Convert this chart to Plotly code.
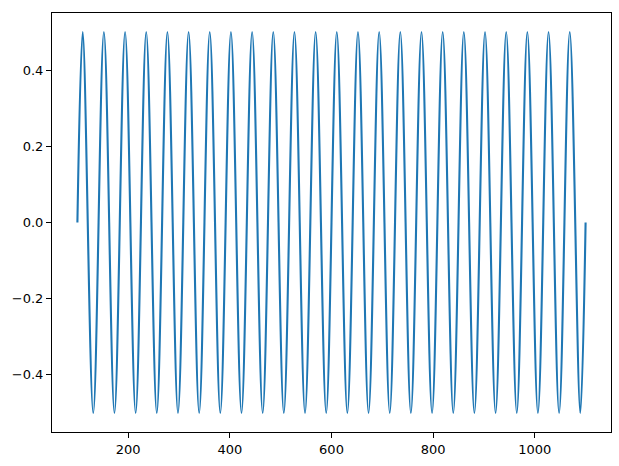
import plotly.graph_objects as go

# Values
x_start, y_start = 100, 0.0
x_end, y_end = 1100, 0.0
amplitude = 0.5
peak_x = [110.4, 152.1, 193.8, 235.4, 277.1, 318.8, 360.4, 402.1, 443.8, 485.4,
          527.1, 568.8, 610.4, 652.1, 693.8, 735.4, 777.1, 818.8, 860.4, 902.1,
          943.8, 985.4, 1027.1, 1068.8]
trough_x = [131.2, 172.9, 214.6, 256.2, 297.9, 339.6, 381.2, 422.9, 464.6, 506.2,
            547.9, 589.6, 631.2, 672.9, 714.6, 756.2, 797.9, 839.6, 881.2, 922.9,
            964.6, 1006.2, 1047.9, 1089.6]
x_tick_vals = [200, 400, 600, 800, 1000]
y_tick_vals = [-0.4, -0.2, 0.0, 0.2, 0.4]

# Assemble the turning points in order
xs = [x_start]
ys = [y_start]
for px, tx in zip(peak_x, trough_x):
    xs += [px, tx]
    ys += [amplitude, -amplitude]
xs.append(x_end)
ys.append(y_end)

fig = go.Figure(go.Scatter(
    x=xs, y=ys, mode="lines",
    line=dict(color="#1f77b4", width=2.1, shape="spline", smoothing=1),
))

axis_common = dict(
    showgrid=False, zeroline=False, automargin=False,
    showline=True, linecolor="black", linewidth=1, mirror=True,
    ticks="outside", ticklen=5, tickwidth=1, tickcolor="black",
    tickfont=dict(family="DejaVu Sans", size=13, color="black"),
)

fig.update_layout(
    width=619, height=466,
    margin=dict(l=52, r=8, t=13, b=34, pad=0, autoexpand=False),
    paper_bgcolor="white", plot_bgcolor="white",
    showlegend=False,
    xaxis=dict(range=[50, 1150], tickvals=x_tick_vals, **axis_common),
    yaxis=dict(range=[-0.55, 0.55], tickvals=y_tick_vals, tickformat=".1f", **axis_common),
)

fig.write_html(
    "out.html",
    config={"displayModeBar": False},
    post_script="document.body.style.margin='0';document.body.style.overflow='hidden';",
)
